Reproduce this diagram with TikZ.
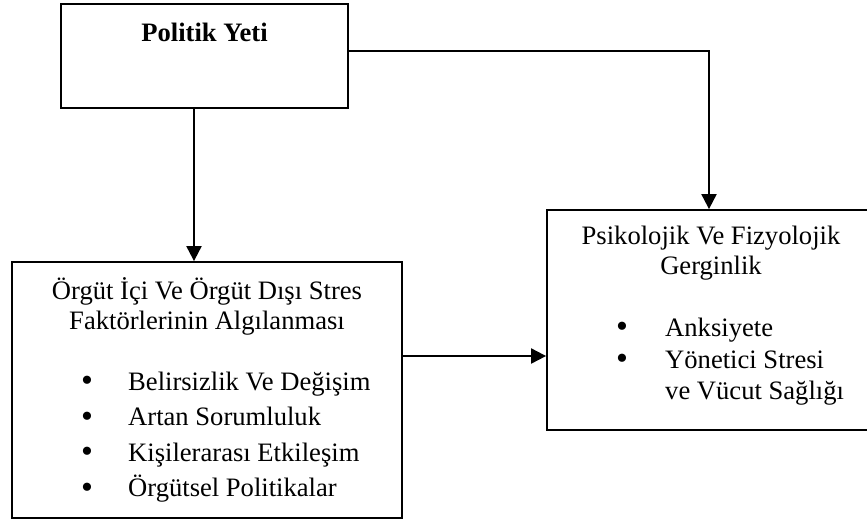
\documentclass[tikz,border=0pt]{standalone}
\usepackage{fontspec}
\setmainfont{Liberation Serif}
\usetikzlibrary{arrows.meta}
\begin{document}
\begin{tikzpicture}[x=1pt,y=-1pt,
  box/.style={draw=black,line width=1.8pt,rectangle,inner sep=0pt},
  conn/.style={draw=black,line width=2pt,-{Triangle[length=15pt,width=15pt]}},
  txt/.style={font=\fontsize{26.6}{30}\selectfont,inner sep=0pt,anchor=base},
  itm/.style={txt,anchor=base west},
  dot/.style={font=\fontsize{34}{34}\selectfont,inner sep=0pt,anchor=base,yshift=-1.5pt},
  ]
\useasboundingbox (0,0) rectangle (867,523);
% boxes
\node[box,minimum width=287pt,minimum height=104pt] (top) at (204.5,56) {};
\node[box,minimum width=390pt,minimum height=256pt] (bl) at (207,390) {};
\node[box,minimum width=324pt,minimum height=220pt] (rb) at (709,320) {};
% texts
\node[txt,font=\fontsize{26.6}{30}\selectfont\bfseries] (toptxt) at (204.5,41) {Politik Yeti};
\node[txt] (bt1) at (207,299) {Örgüt İçi Ve Örgüt Dışı Stres};
\node[txt] (bt2) at (207,329) {Faktörlerinin Algılanması};
\node[dot] (bd1) at (87,390) {•};
\node[itm] (bi1) at (128,390) {Belirsizlik Ve Değişim};
\node[dot] (bd2) at (87,425.5) {•};
\node[itm] (bi2) at (128,425.5) {Artan Sorumluluk};
\node[dot] (bd3) at (87,461) {•};
\node[itm] (bi3) at (128,461) {Kişilerarası Etkileşim};
\node[dot] (bd4) at (87,496.5) {•};
\node[itm] (bi4) at (128,496.5) {Örgütsel Politikalar};
\node[txt] (rt1) at (711,244) {Psikolojik Ve Fizyolojik};
\node[txt] (rt2) at (711,274) {Gerginlik};
\node[dot] (rd1) at (622,336) {•};
\node[itm] (ri1) at (665,336) {Anksiyete};
\node[dot] (rd2) at (622,368) {•};
\node[itm] (ri2) at (665,368) {Yönetici Stresi};
\node[itm] (ri3) at (665,399) {ve Vücut Sağlığı};
% connectors
\coordinate (c1) at (194,0);
\coordinate (c2) at (0,51);
\coordinate (c3) at (0,356);
\draw[conn] (top.south -| c1) -- (bl.north -| c1);
\draw[conn] (top.east |- c2) -| (rb.north);
\draw[conn] (bl.east |- c3) -- (rb.west |- c3);
\end{tikzpicture}
\end{document}
